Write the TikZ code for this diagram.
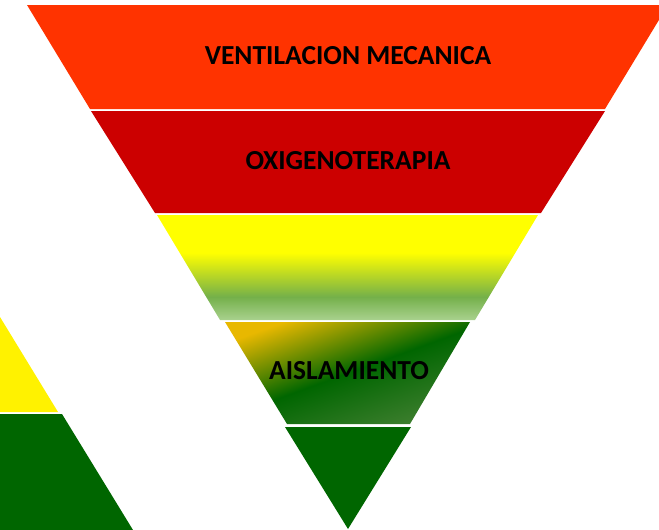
\documentclass[tikz,border=0pt]{standalone}
\usepackage{fontspec}
\setmainfont{Carlito}
\definecolor{bandone}{HTML}{FF3300}
\definecolor{bandtwo}{HTML}{CC0000}
\definecolor{dkgreen}{HTML}{006600}
\definecolor{ltgreen}{HTML}{A9D18E}
\definecolor{mdgreen}{HTML}{74B04A}
\definecolor{goldish}{HTML}{E8B800}
\definecolor{brgreen}{HTML}{3D7E2E}
\pgfdeclareverticalshading{bandthree}{100bp}{color(0bp)=(ltgreen); color(25bp)=(ltgreen); color(36bp)=(mdgreen); color(57bp)=(yellow); color(100bp)=(yellow)}
\pgfdeclarehorizontalshading{bandfour}{100bp}{color(0bp)=(goldish); color(25bp)=(goldish); color(50bp)=(dkgreen); color(75bp)=(brgreen); color(100bp)=(brgreen)}
\tikzset{lbl/.style={font=\bfseries\fontsize{27.5}{32}\selectfont, text=black, inner sep=0pt}}
\begin{document}
\begin{tikzpicture}[x=1pt,y=-1pt]
\useasboundingbox (0,0) rectangle (659,530);
\clip (0,0) rectangle (659,530);
% left fragments
\fill[yellow] (0,317) -- (58,412) -- (0,412) -- cycle;
\fill[dkgreen] (0,414) -- (62,414) -- (133,530) -- (0,530) -- cycle;
% pyramid bands
\fill[bandone] (27,5) -- (668,5) -- (605,109) -- (90,109) -- cycle;
\fill[bandtwo] (91,111) -- (605,111) -- (541,213) -- (155,213) -- cycle;
\shade[shading=bandthree] (157,215) -- (538,215) -- (475,320) -- (220,320) -- cycle;
\shade[shading=bandfour, shading angle=-70] (225,322) -- (470,322) -- (410,424) -- (287,424) -- cycle;
\fill[dkgreen] (285,427) -- (411,427) -- (348,529) -- cycle;
% labels
\node[lbl] (vent) at (348,56) {VENTILACION MECANICA};
\node[lbl] (oxi) at (348,161) {OXIGENOTERAPIA};
\node[lbl] (ais) at (349,371) {AISLAMIENTO};
\end{tikzpicture}
\end{document}
